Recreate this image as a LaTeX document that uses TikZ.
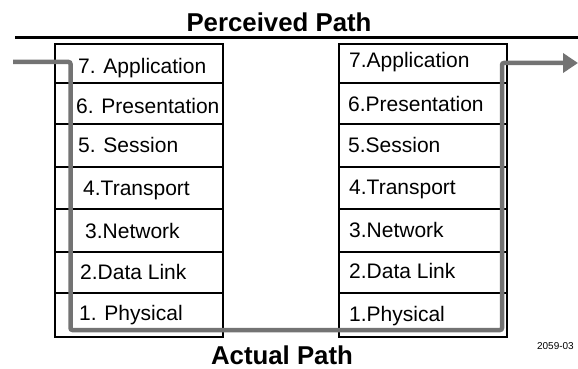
\documentclass[tikz,border=0pt]{standalone}
\usepackage{fontspec}
\setmainfont{Liberation Sans}
\usetikzlibrary{arrows.meta}
\begin{document}
\begin{tikzpicture}[x=1pt,y=-1pt,
  layer/.style={draw=black,line width=1.1pt,inner sep=0pt,outer sep=0pt,
                minimum width=168pt,anchor=north west},
  lbl/.style={anchor=base west,inner sep=0pt,font=\fontsize{21}{25}\selectfont},
  heading/.style={font=\bfseries\fontsize{25.8}{30}\selectfont,inner sep=0pt},
  route/.style={draw={rgb,255:red,115;green,115;blue,115},line width=4.5pt,
                rounded corners=2pt}]
\useasboundingbox (0,0) rectangle (578,369);

% headings and rule
\node[heading,anchor=base] (perc) at (279,32) {Perceived Path};
\node[heading,anchor=base] (act) at (282,364) {Actual Path};
\node[anchor=base east,inner sep=0pt,font=\fontsize{10}{12}\selectfont] (fig) at (574,349) {2059-03};
\coordinate (ruleL) at (15,38);
\coordinate (ruleR) at (578,38);
\draw[line width=3pt] (ruleL) -- (ruleR);

% two stacks of layers (top edge / height of each row)
\foreach \n/\t/\h in {7/44/39,6/83/41,5/124/43,4/167/42,3/209/43,2/252/41,1/293/44}{
  \node[layer,minimum height=\h pt] (L\n) at (55,\t) {};
  \node[layer,minimum height=\h pt] (R\n) at (339,\t) {};
}

% left labels
\node[lbl] (l7) at (78,74) {7. Application};
\node[lbl] (l6) at (76,113) {6. Presentation};
\node[lbl] (l5) at (78,152) {5. Session};
\node[lbl] (l4) at (83,195) {4.Transport};
\node[lbl] (l3) at (85,238) {3.Network};
\node[lbl] (l2) at (80,279) {2.Data Link};
\node[lbl] (l1) at (79,320) {1. Physical};

% right labels
\node[lbl] (r7) at (349,67) {7.Application};
\node[lbl] (r6) at (348,111) {6.Presentation};
\node[lbl] (r5) at (348,152) {5.Session};
\node[lbl] (r4) at (349,194) {4.Transport};
\node[lbl] (r3) at (349,237) {3.Network};
\node[lbl] (r2) at (349,278) {2.Data Link};
\node[lbl] (r1) at (349,321) {1.Physical};

% actual data route: down the left stack, across, up the right stack
\coordinate (src) at (13,62);
\coordinate (downL) at (70.5,62);
\coordinate (botL) at (70.5,330);
\coordinate (botR) at (502,330);
\coordinate (upR) at (502,63);
\coordinate (dst) at (578,63);
\draw[route,-{Triangle[length=15pt,width=19pt]}]
  (src) -- (downL) -- (botL) -- (botR) -- (upR) -- (dst);
\end{tikzpicture}
\end{document}
